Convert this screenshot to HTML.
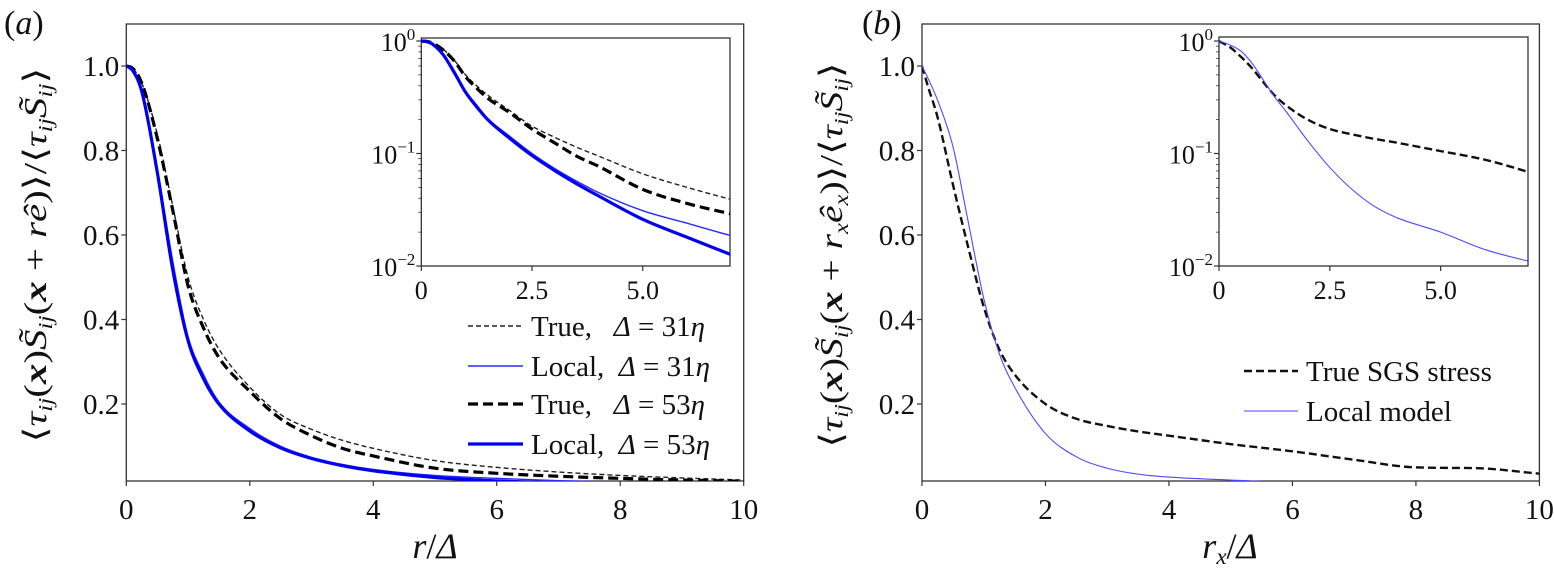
<!DOCTYPE html>
<html><head><meta charset="utf-8"><style>
html,body{margin:0;padding:0;background:#fff;}
svg{display:block;}
svg text{font-family:"Liberation Serif","Times New Roman","DejaVu Serif",serif;}
</style></head><body>
<svg id="chart" width="1554" height="568" viewBox="0 0 1554 568" font-family="Liberation Serif, serif">
<defs>
<clipPath id="clipA"><rect x="126.3" y="24" width="617.4" height="457"/></clipPath>
<clipPath id="clipB"><rect x="922" y="24" width="617.4" height="457"/></clipPath>
<clipPath id="clipIA"><rect x="421.3" y="38" width="308.7" height="228"/></clipPath>
<clipPath id="clipIB"><rect x="1219" y="37" width="308.7" height="229"/></clipPath>
</defs>
<g id="root"></g>
</svg>
<script>
// ---- data panel (a) ----
const rA = [0,0.1,0.25,0.5,0.75,1,1.25,1.5,2,2.5,3,3.5,4,5,6,7,8,9,10];
const true31 = [1,0.995,0.96,0.84,0.67,0.50,0.40,0.33,0.24,0.175,0.14,0.114,0.095,0.066,0.05,0.039,0.031,0.025,0.02];
const true53 = [1,0.995,0.96,0.83,0.66,0.48,0.38,0.31,0.23,0.165,0.125,0.095,0.077,0.048,0.036,0.029,0.024,0.02,0.017];
const local31 = [1,0.99,0.94,0.76,0.54,0.36,0.27,0.205,0.142,0.1,0.074,0.057,0.045,0.031,0.024,0.0186,0.015,0.013,0.011];
const local53 = [1,0.99,0.94,0.75,0.52,0.35,0.26,0.2,0.136,0.096,0.071,0.054,0.042,0.026,0.018,0.0126,0.009,0.007,0.006];
// ---- data panel (b) ----
const rB = [0,0.1,0.25,0.5,0.75,1,1.25,1.5,2,2.5,3,3.5,4,5,6,7,8,9,10];
const trueB = [1,0.95,0.88,0.72,0.57,0.43,0.33,0.27,0.2,0.165,0.148,0.135,0.125,0.105,0.088,0.068,0.05,0.048,0.035];
const localB = [1,0.97,0.92,0.81,0.63,0.45,0.32,0.24,0.13,0.075,0.048,0.034,0.027,0.02,0.014,0.011,0.009,0.008,0.007];
// ---- ticks ----
const mainXTicks = [0,2,4,6,8,10];
const mainYTicks = [0.2,0.4,0.6,0.8,1.0];
const mainYLabels = ["0.2","0.4","0.6","0.8","1.0"];
const insetXTicks = [0,2.5,5.0];
const insetXLabels = ["0","2.5","5.0"];
const insetYTicks = [1,0.1,0.01];
const insetYExp = ["0","−1","−2"];

const NS="http://www.w3.org/2000/svg";
const root=document.getElementById('root');
function el(tag,attrs,parent){const e=document.createElementNS(NS,tag);for(const k in attrs)e.setAttribute(k,attrs[k]);(parent||root).appendChild(e);return e;}

function mainAxes(L,R){
  const T=24,B=481;
  const x=v=>L+(v/10)*(R-L);
  const y=v=>488.5-v*422.5;
  return {L,R,T,B,x,y};
}
function insetAxes(L,R,T,B){
  const x=v=>L+(v/6.97)*(R-L);
  const y=v=>41-Math.log10(v)*112.5;
  return {L,R,T,B,x,y};
}
function pathD(xs,ys,ax){
  const P=xs.map((v,i)=>[ax.x(v),ax.y(ys[i])]);
  const n=P.length,d=[],m=[];
  for(let i=0;i<n-1;i++)d.push((P[i+1][1]-P[i][1])/(P[i+1][0]-P[i][0]));
  m[0]=d[0];m[n-1]=d[n-2];
  for(let i=1;i<n-1;i++){m[i]=(d[i-1]*d[i]<=0)?0:(d[i-1]+d[i])/2;}
  for(let i=0;i<n-1;i++){if(d[i]===0){m[i]=0;m[i+1]=0;continue;}
    const a=m[i]/d[i],b=m[i+1]/d[i],s=a*a+b*b;
    if(s>9){const t=3/Math.sqrt(s);m[i]=t*a*d[i];m[i+1]=t*b*d[i];}}
  let s='M'+P[0][0].toFixed(2)+','+P[0][1].toFixed(2);
  for(let i=0;i<n-1;i++){const h=(P[i+1][0]-P[i][0])/3;
    s+=' C'+(P[i][0]+h).toFixed(2)+','+(P[i][1]+m[i]*h).toFixed(2)+' '+(P[i+1][0]-h).toFixed(2)+','+(P[i+1][1]-m[i+1]*h).toFixed(2)+' '+P[i+1][0].toFixed(2)+','+P[i+1][1].toFixed(2);}
  return s;
}

function drawMain(ax,prefix){
  const g=el('g',{});
  
  
  const f=el('rect',{x:ax.L,y:ax.T,width:ax.R-ax.L,height:ax.B-ax.T,fill:'none',stroke:'#333','stroke-width':1.3},g);
  
  
  mainXTicks.forEach(v=>{
    const t=el('line',{x1:ax.x(v),x2:ax.x(v),y1:ax.B,y2:ax.B+5,stroke:'#333','stroke-width':1.2},g);
    
    
    const l=el('text',{x:ax.x(v),y:ax.B+38,'font-size':29,'text-anchor':'middle',fill:'#111'},g);
    l.textContent=String(v);
    
    
  });
  mainYTicks.forEach((v,i)=>{
    const t=el('line',{x1:ax.L-5,x2:ax.L,y1:ax.y(v),y2:ax.y(v),stroke:'#333','stroke-width':1.2},g);
    
    
    const l=el('text',{x:ax.L-7,y:ax.y(v)+10,'font-size':29,'text-anchor':'end',fill:'#111'},g);
    l.textContent=mainYLabels[i];
    
    
  });
  return g;
}
function drawInset(ax,prefix){
  const g=el('g',{});
  
  
  el('rect',{x:ax.L,y:ax.T,width:ax.R-ax.L,height:ax.B-ax.T,fill:'#fff',stroke:'#333','stroke-width':1.3},g);
  insetXTicks.forEach((v,i)=>{
    const t=el('line',{x1:ax.x(v),x2:ax.x(v),y1:ax.B,y2:ax.B+5,stroke:'#333','stroke-width':1.2},g);
    
    
    const l=el('text',{x:ax.x(v),y:ax.B+33,'font-size':26,'text-anchor':'middle',fill:'#111'},g);
    l.textContent=insetXLabels[i];
    
    
  });
  insetYTicks.forEach((v,i)=>{
    const t=el('line',{x1:ax.L-5,x2:ax.L,y1:ax.y(v),y2:ax.y(v),stroke:'#333','stroke-width':1.2},g);
    
    
    const l=el('text',{x:ax.L-6,y:ax.y(v)+10,'font-size':26,'text-anchor':'end',fill:'#111'},g);
    const a=el('tspan',{},l);a.textContent='10';
    const b=el('tspan',{dy:-11,'font-size':17},l);b.textContent=insetYExp[i];
    
    
  });
  [2,3,4,5,6,7,8,9].forEach(m=>[0.1,0.01].forEach(d=>{
    const v=m*d;
    const t=el('line',{x1:ax.L-3,x2:ax.L,y1:ax.y(v),y2:ax.y(v),stroke:'#333','stroke-width':0.8},g);
    
    
  }));
  return g;
}
function series(ax,xs,ys,style,clip,name){
  const p=el('path',Object.assign({d:pathD(xs,ys,ax),fill:'none','clip-path':'url(#'+clip+')','stroke-linejoin':'round'},style));
  
  
  return p;
}
const sTrue31={stroke:'#222','stroke-width':1.4,'stroke-dasharray':'5,3'};
const sTrue53={stroke:'#000','stroke-width':3.2,'stroke-dasharray':'10,5'};
const sLoc31={stroke:'#2a2aff','stroke-width':1.4};
const sLoc53={stroke:'#0000ee','stroke-width':3.2};
const sTrueB={stroke:'#111','stroke-width':2.4,'stroke-dasharray':'8,4'};
const sLocB={stroke:'#4a4aff','stroke-width':1.1};

const A=mainAxes(126.3,743.7);
drawMain(A,'panel-a');
series(A,rA,true31,sTrue31,'clipA','line-true-31');
series(A,rA,true53,sTrue53,'clipA','line-true-53');
series(A,rA,local31,sLoc31,'clipA','line-local-31');
series(A,rA,local53,sLoc53,'clipA','line-local-53');
const IA=insetAxes(421.3,730,38,266);
drawInset(IA,'panel-a');
series(IA,rA,true31,sTrue31,'clipIA','inset-true-31');
series(IA,rA,true53,sTrue53,'clipIA','inset-true-53');
series(IA,rA,local31,sLoc31,'clipIA','inset-local-31');
series(IA,rA,local53,sLoc53,'clipIA','inset-local-53');

const B=mainAxes(922,1539.4);
drawMain(B,'panel-b');
series(B,rB,trueB,sTrueB,'clipB','line-true-sgs');
series(B,rB,localB,sLocB,'clipB','line-local-model');
const IB=insetAxes(1219,1528,37,266);
drawInset(IB,'panel-b');
series(IB,rB,trueB,sTrueB,'clipIB','inset-true-sgs');
series(IB,rB,localB,sLocB,'clipIB','inset-local-model');

function legendEntry(x1,x2,y,style,label,name){
  const g=el('g',{});
  
  
  el('line',Object.assign({x1:x1,x2:x2,y1:y,y2:y},style),g);
  const t=el('text',{x:x2+8,y:y+10,'font-size':29,fill:'#111'},g);
  t.innerHTML=label;
}
const delta='<tspan font-style="italic">Δ</tspan>';
legendEntry(468,523,326,sTrue31,'True,&#160;&#160;&#160;'+delta+' = 31<tspan font-style="italic">η</tspan>','legend-entry-true-31');
legendEntry(468,523,366,sLoc31,'Local,&#160;&#160;'+delta+' = 31<tspan font-style="italic">η</tspan>','legend-entry-local-31');
legendEntry(468,523,404,sTrue53,'True,&#160;&#160;&#160;'+delta+' = 53<tspan font-style="italic">η</tspan>','legend-entry-true-53');
legendEntry(468,523,444,sLoc53,'Local,&#160;&#160;'+delta+' = 53<tspan font-style="italic">η</tspan>','legend-entry-local-53');
legendEntry(1244,1298,371,sTrueB,'True SGS stress','legend-entry-true-sgs');
legendEntry(1244,1298,411,sLocB,'Local model','legend-entry-local-model');

function txt(attrs,html,name){const t=el('text',attrs);t.innerHTML=html;return t;}
txt({x:4,y:34,'font-size':34,fill:'#111'},'(<tspan font-style="italic">a</tspan>)','panel-a-label');
txt({x:862,y:34,'font-size':34,fill:'#111'},'(<tspan font-style="italic">b</tspan>)','panel-b-label');
txt({x:435,y:558,'font-size':36,'text-anchor':'middle',fill:'#111'},'<tspan font-style="italic">r</tspan>/<tspan font-style="italic">Δ</tspan>','panel-a-x-axis-title');
txt({x:1230,y:558,'font-size':36,'text-anchor':'middle',fill:'#111'},'<tspan font-style="italic">r</tspan><tspan font-style="italic" font-size="23" dy="6">x</tspan><tspan dy="-6">/</tspan><tspan font-style="italic">Δ</tspan>','panel-b-x-axis-title');
const ylabA='⟨<tspan font-style="italic">τ</tspan><tspan font-style="italic" font-size="20" dy="6">ij</tspan><tspan dy="-6">(</tspan><tspan font-weight="bold" font-style="italic">x</tspan>)<tspan font-style="italic">S̃</tspan><tspan font-style="italic" font-size="20" dy="6">ij</tspan><tspan dy="-6">(</tspan><tspan font-weight="bold" font-style="italic">x</tspan> + <tspan font-style="italic">rê</tspan>)⟩/⟨<tspan font-style="italic">τ</tspan><tspan font-style="italic" font-size="20" dy="6">ij</tspan><tspan font-style="italic" dy="-6">S̃</tspan><tspan font-style="italic" font-size="20" dy="6">ij</tspan><tspan dy="-6">⟩</tspan>';
txt({x:0,y:0,'font-size':32,'text-anchor':'middle',fill:'#111',transform:'translate(46,255) rotate(-90)',textLength:375,lengthAdjust:'spacingAndGlyphs'},ylabA,'panel-a-y-axis-title');
const ylabB='⟨<tspan font-style="italic">τ</tspan><tspan font-style="italic" font-size="20" dy="6">ij</tspan><tspan dy="-6">(</tspan><tspan font-weight="bold" font-style="italic">x</tspan>)<tspan font-style="italic">S̃</tspan><tspan font-style="italic" font-size="20" dy="6">ij</tspan><tspan dy="-6">(</tspan><tspan font-weight="bold" font-style="italic">x</tspan> + <tspan font-style="italic">r</tspan><tspan font-style="italic" font-size="20" dy="6">x</tspan><tspan font-style="italic" dy="-6">ê</tspan><tspan font-style="italic" font-size="20" dy="6">x</tspan><tspan dy="-6">)⟩/⟨</tspan><tspan font-style="italic">τ</tspan><tspan font-style="italic" font-size="20" dy="6">ij</tspan><tspan font-style="italic" dy="-6">S̃</tspan><tspan font-style="italic" font-size="20" dy="6">ij</tspan><tspan dy="-6">⟩</tspan>';
txt({x:0,y:0,'font-size':32,'text-anchor':'middle',fill:'#111',transform:'translate(842,255) rotate(-90)',textLength:385,lengthAdjust:'spacingAndGlyphs'},ylabB,'panel-b-y-axis-title');
</script>
</body></html>
